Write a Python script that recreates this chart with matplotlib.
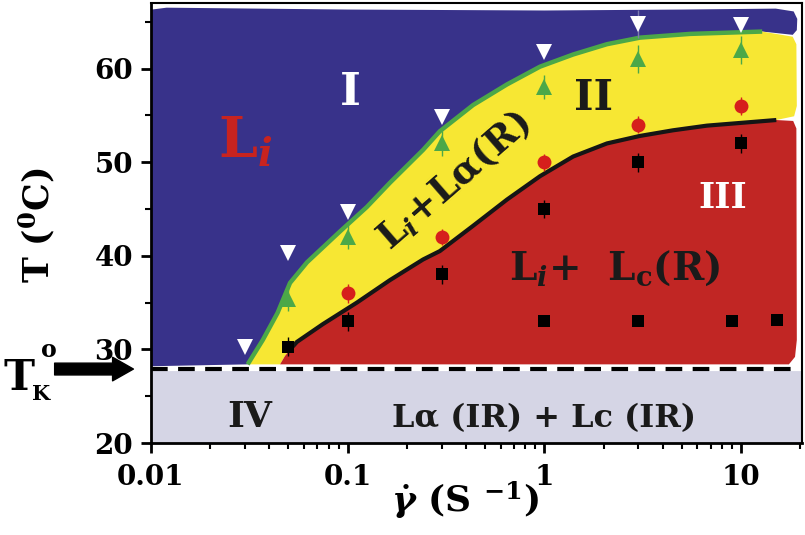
import numpy as np
import matplotlib
matplotlib.use("Agg")
import matplotlib.pyplot as plt
from matplotlib.ticker import LogLocator, NullFormatter, FixedLocator

plt.rcParams['font.family'] = 'DejaVu Serif'
plt.rcParams['font.weight'] = 'bold'
plt.rcParams['mathtext.fontset'] = 'custom'
plt.rcParams['mathtext.rm'] = 'DejaVu Serif:bold'
plt.rcParams['mathtext.bf'] = 'DejaVu Serif:bold'
plt.rcParams['mathtext.it'] = 'DejaVu Serif:bold:italic'

# phase boundaries (shear rate s^-1, T in C)
green_x = [0.031, 0.037, 0.044, 0.0509, 0.0621, 0.0914, 0.125, 0.164, 0.2415, 0.294,
           0.434, 0.645, 0.95, 1.40, 2.08, 3.06, 5.5, 12.8]
green_y = [28.4, 31.0, 33.9, 37.1, 39.3, 42.6, 45.2, 47.8, 51.3, 53.3,
           56.1, 58.3, 60.2, 61.5, 62.6, 63.3, 63.7, 63.95]
black_x = [0.052, 0.0552, 0.0748, 0.1114, 0.164, 0.2415, 0.294, 0.434, 0.645, 0.95,
           1.40, 2.08, 3.06, 4.5, 6.7, 15.1]
black_y = [30.2, 30.8, 32.7, 35.0, 37.4, 39.6, 40.5, 43.2, 46.0, 48.5,
           50.6, 52.0, 52.8, 53.4, 53.9, 54.5]

# outer edges of the painted regions
blue_top_x = [0.0101, 0.012, 0.1, 1.0, 5.0, 15.0, 18.5, 19.3, 19.2, 18.3]
blue_top_y = [66.3, 66.5, 66.3, 66.2, 66.3, 66.4, 66.1, 65.3, 64.1, 63.6]
yellow_end_x = [18.3, 19.1, 19.2, 18.6]
yellow_end_y = [63.4, 62.6, 56.0, 54.9]
red_end_x = [18.4, 19.1, 19.2, 18.8, 17.5]
red_end_y = [54.4, 53.6, 31.0, 29.2, 28.4]
red_foot_x = [0.0453, 0.048]
red_foot_y = [28.4, 29.3]
T_K = 27.9

# measured points
tri_x = [0.03, 0.05, 0.1, 0.3, 1, 3, 10]
tri_T = [30.3, 40.3, 44.7, 54.8, 61.8, 64.8, 64.7]
tri_err = [0, 0, 0, 0, 0, 1.5, 0]
up_x = [0.05, 0.1, 0.3, 1, 3, 10]
up_T = [35.4, 42.0, 52.0, 58.0, 61.0, 62.0]
up_err = [1.3, 1.3, 1.3, 1.3, 1.5, 1.5]
circ_x = [0.1, 0.3, 1, 3, 10]
circ_T = [36.0, 42.0, 50.0, 54.0, 56.0]
circ_err = [1.0, 0.9, 0.9, 0.9, 1.0]
sq_x = [0.05, 0.1, 0.3, 1, 3, 10]
sq_T = [30.3, 33.0, 38.0, 45.0, 50.0, 52.0]
sq_err = [1.0, 1.0, 1.0, 1.0, 1.0, 1.0]
sq2_x = [1, 3, 9, 15.2]
sq2_T = [33.0, 33.0, 33.0, 33.1]

xticks = [0.01, 0.1, 1, 10]
xticklabels = ['0.01', '0.1', '1', '10']
yticks = [20, 30, 40, 50, 60]

c_blue = '#38328a'
c_yellow = '#f7e733'
c_red = '#c12624'
c_green = '#4ca848'
c_lav = '#d5d5e5'

fig = plt.figure(figsize=(8.05, 5.35), dpi=100)
ax = fig.add_axes([151/805, 1-443/535, (802-151)/805, (443-3)/535])
ax.set_xscale('log')
ax.set_xlim(0.01, 20.4)
ax.set_ylim(20, 67)

# regions
ax.axhspan(20, T_K - 0.2, color=c_lav, zorder=0)
bx = [0.01] + blue_top_x + green_x[::-1] + [0.01]
by = [T_K + 0.3] + blue_top_y + green_y[::-1] + [T_K + 0.3]
ax.fill(bx, by, color=c_blue, lw=0, zorder=1)
yx = green_x + yellow_end_x + black_x[::-1] + red_foot_x[::-1]
yy = green_y + yellow_end_y + black_y[::-1] + red_foot_y[::-1]
ax.fill(yx, yy, color=c_yellow, lw=0, zorder=1)
rx = red_foot_x + black_x + red_end_x
ry = red_foot_y + black_y + red_end_y
ax.fill(rx, ry, color=c_red, lw=0, zorder=1)

ax.plot(green_x, green_y, color=c_green, lw=3.2, zorder=2, solid_capstyle='butt',
        solid_joinstyle='round')
ax.plot(black_x, black_y, color='#151515', lw=3.0, zorder=2, solid_capstyle='butt',
        solid_joinstyle='round')
ax.axhline(T_K, color='black', lw=3, ls=(0, (4, 2.5)), gapcolor='white', zorder=2)

# data points
ax.errorbar(tri_x, tri_T, yerr=tri_err, fmt='v', color='white', ecolor='#7c7cb0',
            ms=12, mew=0, capsize=4, elinewidth=1, zorder=4)
ax.errorbar(up_x, up_T, yerr=up_err, fmt='^', color=c_green, ms=12, mew=0,
            capsize=4, elinewidth=1, zorder=4)
ax.errorbar(circ_x, circ_T, yerr=circ_err, fmt='o', color='#d61f1c', ms=10, mew=0,
            capsize=4, elinewidth=1, zorder=4)
ax.errorbar(sq_x, sq_T, yerr=sq_err, fmt='s', color='black', ms=9, mew=0,
            capsize=4, elinewidth=1, zorder=4)
ax.plot(sq2_x, sq2_T, 's', color='black', ms=9, mew=0, zorder=4)

# labels inside
ax.text(0.103, 56.1, 'I', color='white', fontsize=32, ha='center', va='baseline', zorder=5)
ax.text(0.030, 50.5, r'L$_{\mathit{i}}$', color='#c8231f', fontsize=40, ha='center', va='baseline', zorder=5)
ax.text(1.77, 55.6, 'II', color='#1a1a1a', fontsize=30, ha='center', va='baseline', zorder=5)
ax.text(8.1, 45.1, 'III', color='white', fontsize=25, ha='center', va='baseline', zorder=5)
ax.text(0.345, 48.0, r'L$_{\mathit{i}}$+Lα(R)', color='#1a1a1a', fontsize=27, rotation=41,
        ha='center', va='center', rotation_mode='anchor', zorder=5)
ax.text(2.29, 37.4, r'L$_{\mathit{i}}$+  L$_{\mathbf{c}}$(R)', color='#1a1a1a', fontsize=28,
        ha='center', va='baseline', zorder=5)
ax.text(0.0318, 21.7, 'IV', color='#1a1a1a', fontsize=26, ha='center', va='baseline', zorder=5)
ax.text(1.0, 21.7, 'Lα (IR) + Lc (IR)', color='#1a1a1a', fontsize=23, ha='center', va='baseline', zorder=5)

# axes styling
ax.set_xticks(xticks)
ax.set_xticklabels(xticklabels)
ax.xaxis.set_minor_locator(LogLocator(base=10, subs=np.arange(2, 10)))
ax.xaxis.set_minor_formatter(NullFormatter())
ax.set_yticks(yticks)
ax.yaxis.set_minor_locator(FixedLocator([25, 35, 45, 55, 65]))
ax.tick_params(which='major', direction='out', length=7, width=2, labelsize=20, pad=6)
ax.tick_params(which='minor', direction='out', length=4.5, width=1.5)
ax.tick_params(axis='x', which='major', pad=8)
for s in ['left', 'bottom']:
    ax.spines[s].set_linewidth(2)
for s in ['top', 'right']:
    ax.spines[s].set_linewidth(1.5)

fig.text(37/805, 1-225/535, r'T ($^{\mathbf{0}}$C)', fontsize=25, rotation=90, ha='center', va='center')
fig.text(465/805, 1-500/535, r'$\dot{\gamma}$ (S $^{\mathbf{-1}}$)', fontsize=26, ha='center', va='center')

# T_K arrow
ax.annotate('', xy=(-0.027, T_K), xytext=(-0.148, T_K), xycoords=('axes fraction', 'data'),
            textcoords=('axes fraction', 'data'), annotation_clip=False,
            arrowprops=dict(facecolor='black', edgecolor='black', width=8.5, headwidth=17,
                            headlength=15, shrink=0))
fig.text(3/805, 1-390/535, 'T', fontsize=30, ha='left', va='baseline')
fig.text(32/805, 1-400/535, 'K', fontsize=15, ha='left', va='baseline')
fig.text(41/805, 1-357/535, 'o', fontsize=17, ha='left', va='baseline')

fig.savefig('out.png', dpi=100)
